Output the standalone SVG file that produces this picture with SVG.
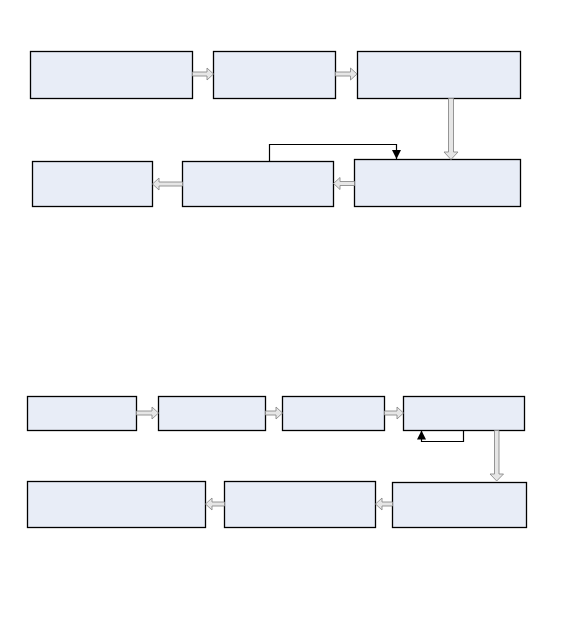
<svg xmlns="http://www.w3.org/2000/svg" width="567" height="624" viewBox="0 0 567 624">
<defs>
<style>
.box{fill:#e8edf7;stroke:#000;stroke-width:1.3}
.ba{fill:#e6e6e6;stroke:#8a8a8a;stroke-width:0.9;stroke-linejoin:miter}
.ln{fill:none;stroke:#000;stroke-width:1.2}
</style>
<marker id="ah" viewBox="0 0 10 10" refX="10" refY="5" markerWidth="9" markerHeight="9" markerUnits="userSpaceOnUse" orient="auto">
<path d="M0,0 L10,5 L0,10 Z" fill="#000"/>
</marker>
</defs>
<rect width="567" height="624" fill="#fff"/>
<g id="nodeA"><rect class="box" x="30.5" y="51.5" width="162" height="47"/></g>
<g id="nodeB"><rect class="box" x="213.5" y="51.5" width="122" height="47"/></g>
<g id="nodeC"><rect class="box" x="357.5" y="51.5" width="163" height="47"/></g>
<g id="nodeD"><rect class="box" x="32.5" y="161.5" width="120" height="45"/></g>
<g id="nodeE"><rect class="box" x="182.5" y="161.5" width="151" height="45"/></g>
<g id="nodeF"><rect class="box" x="354.5" y="159.5" width="166" height="47"/></g>
<g id="nodeG"><rect class="box" x="27.5" y="396.5" width="109" height="34"/></g>
<g id="nodeH"><rect class="box" x="158.5" y="396.5" width="107" height="34"/></g>
<g id="nodeI"><rect class="box" x="282.5" y="396.5" width="102" height="34"/></g>
<g id="nodeJ"><rect class="box" x="403.5" y="396.5" width="121" height="34"/></g>
<g id="nodeK"><rect class="box" x="27.5" y="481.5" width="178" height="46"/></g>
<g id="nodeL"><rect class="box" x="224.5" y="481.5" width="151" height="46"/></g>
<g id="nodeM"><rect class="box" x="392.5" y="482.5" width="134" height="45"/></g>
<g id="connectors">
<!-- A->B -->
<polygon class="ba" points="192.5,72 207,72 207,68 213.5,74 207,80 207,76 192.5,76"/>
<!-- B->C -->
<polygon class="ba" points="335.5,72 350.5,72 350.5,68 357,74 350.5,80 350.5,76 335.5,76"/>
<!-- C->F -->
<polygon class="ba" points="448.5,98.5 453.5,98.5 453.5,152 458,152 451,159.5 444,152 448.5,152"/>
<!-- F->E -->
<polygon class="ba" points="354.5,181.5 340,181.5 340,177.5 333.5,183.5 340,189.5 340,185.5 354.5,185.5"/>
<!-- E->D -->
<polygon class="ba" points="182.5,182 159,182 159,178 152.5,184 159,190 159,186 182.5,186"/>
<!-- E feedback to F -->
<polyline class="ln" points="269.5,161.5 269.5,144.5 396.5,144.5 396.5,159" marker-end="url(#ah)"/>
<!-- G->H -->
<polygon class="ba" points="136.5,411 152,411 152,407 158.5,413 152,419 152,415 136.5,415"/>
<!-- H->I -->
<polygon class="ba" points="265.5,411 276,411 276,407 282.5,413 276,419 276,415 265.5,415"/>
<!-- I->J -->
<polygon class="ba" points="384.5,411 397,411 397,407 403.5,413 397,419 397,415 384.5,415"/>
<!-- J self loop -->
<polyline class="ln" points="463.5,430.5 463.5,441.5 421.5,441.5 421.5,430.5" marker-end="url(#ah)"/>
<!-- J->M -->
<polygon class="ba" points="494.5,430.5 499,430.5 499,474 503.5,474 496.7,481 490,474 494.5,474"/>
<!-- M->L -->
<polygon class="ba" points="392.5,502 382,502 382,498 375.5,504 382,510 382,506 392.5,506"/>
<!-- L->K -->
<polygon class="ba" points="224.5,502 212,502 212,498 205.5,504 212,510 212,506 224.5,506"/>
</g>
</svg>
